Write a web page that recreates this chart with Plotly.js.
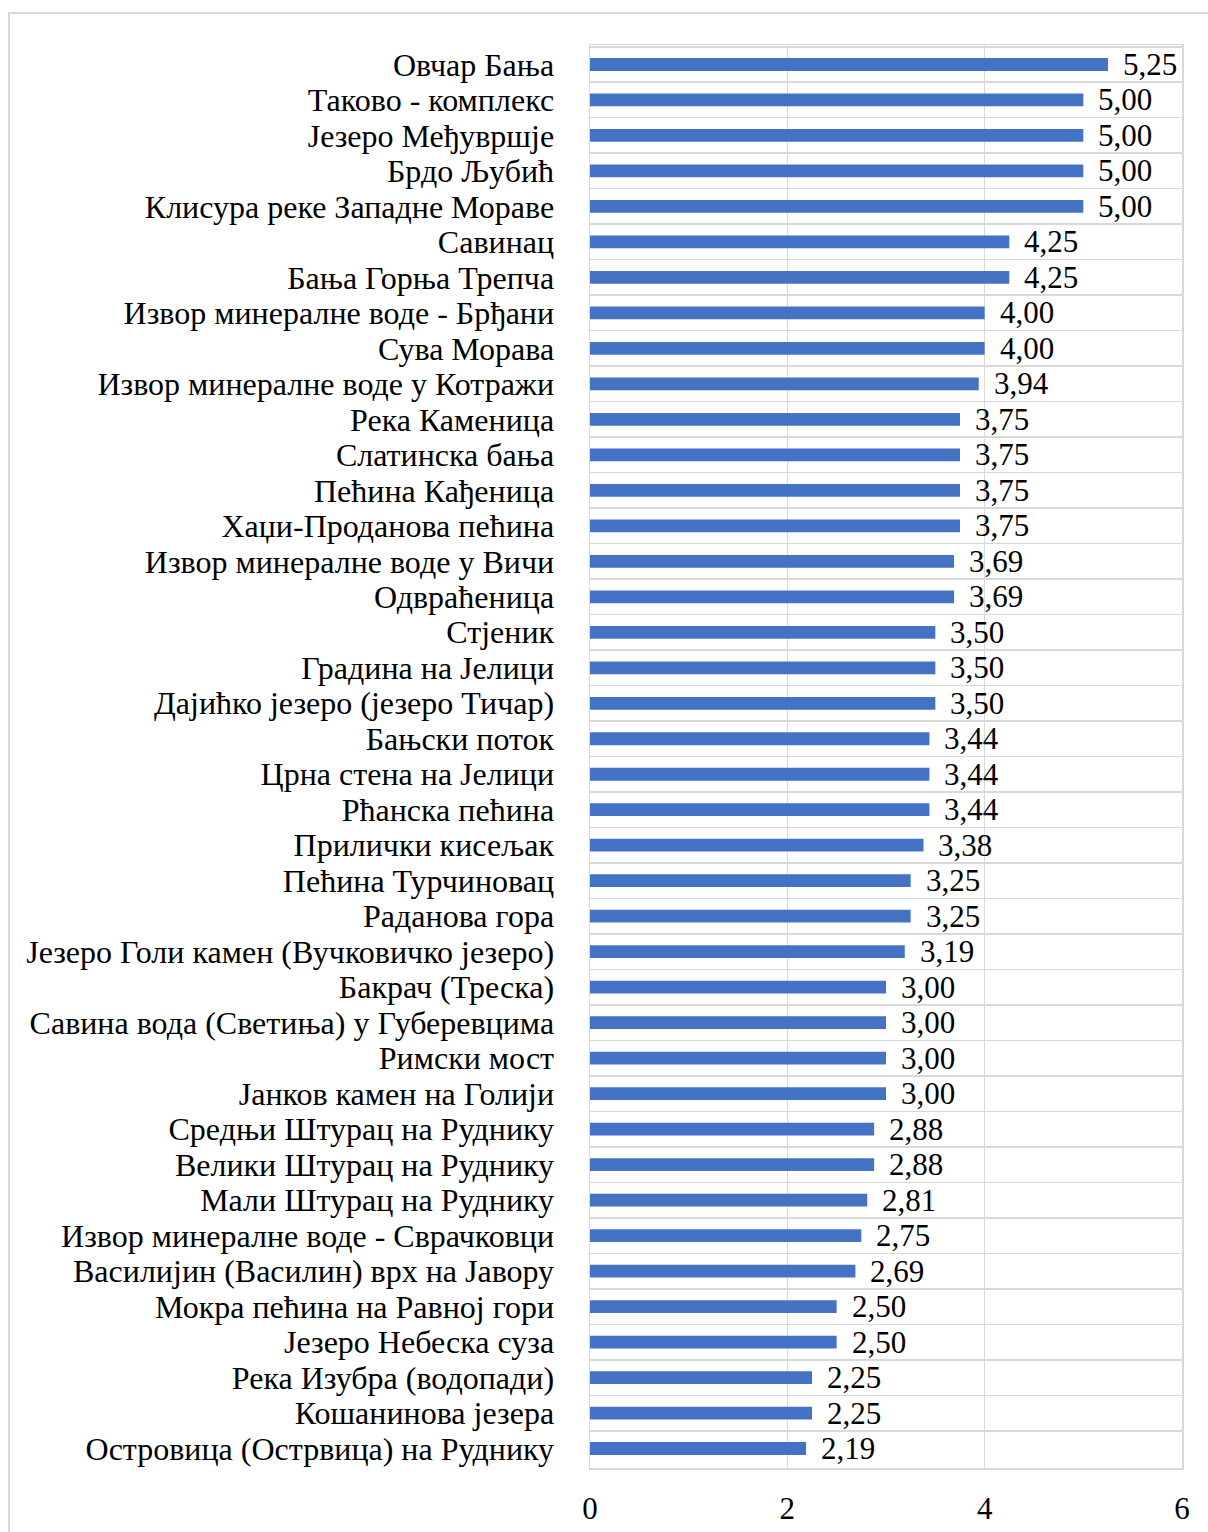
<!DOCTYPE html>
<html>
<head>
<meta charset="utf-8">
<script src="https://cdn.plot.ly/plotly-3.0.1.min.js"></script>
<style>
  html, body { margin: 0; padding: 0; background: #fff; }
  #wrap { position: relative; width: 1208px; height: 1532px; overflow: hidden; }
  #frame { position: absolute; left: 8px; top: 12px; width: 1300px; height: 1600px;
           border-left: 2px solid #d9d9d9; border-top: 2px solid #d9d9d9; box-sizing: border-box; }
  #chart { position: absolute; left: 0; top: 0; width: 1208px; height: 1532px; }
</style>
</head>
<body>
<div id="wrap">
  <div id="frame"></div>
  <div id="chart"></div>
</div>
<script>
const categories = [
  "Овчар Бања",
  "Таково - комплекс",
  "Језеро Међувршје",
  "Брдо Љубић",
  "Клисура реке Западне Мораве",
  "Савинац",
  "Бања Горња Трепча",
  "Извор минералне воде - Брђани",
  "Сува Морава",
  "Извор минералне воде у Котражи",
  "Река Каменица",
  "Слатинска бања",
  "Пећина Кађеница",
  "Хаџи-Проданова пећина",
  "Извор минералне воде у Вичи",
  "Одвраћеница",
  "Стјеник",
  "Градина на Јелици",
  "Дајићко језеро (језеро Тичар)",
  "Бањски поток",
  "Црна стена на Јелици",
  "Рћанска пећина",
  "Прилички кисељак",
  "Пећина Турчиновац",
  "Раданова гора",
  "Језеро Голи камен (Вучковичко језеро)",
  "Бакрач (Треска)",
  "Савина вода (Светиња) у Губеревцима",
  "Римски мост",
  "Јанков камен на Голији",
  "Средњи Штурац на Руднику",
  "Велики Штурац на Руднику",
  "Мали Штурац на Руднику",
  "Извор минералне воде - Сврачковци",
  "Василијин (Василин) врх на Јавору",
  "Мокра пећина на Равној гори",
  "Језеро Небеска суза",
  "Река Изубра (водопади)",
  "Кошанинова језера",
  "Островица (Острвица) на Руднику"
];
const values = [
  5.25, 5.00, 5.00, 5.00, 5.00, 4.25, 4.25, 4.00, 4.00, 3.94,
  3.75, 3.75, 3.75, 3.75, 3.69, 3.69, 3.50, 3.50, 3.50, 3.44,
  3.44, 3.44, 3.38, 3.25, 3.25, 3.19, 3.00, 3.00, 3.00, 3.00,
  2.88, 2.88, 2.81, 2.75, 2.69, 2.50, 2.50, 2.25, 2.25, 2.19
];
const xTicks = [0, 2, 4, 6];

const FONT = "'Liberation Serif', 'Times New Roman', serif";
const FS = 31;
const valueText = values.map(v => v.toFixed(2).replace('.', ','));

const trace = {
  type: 'bar',
  orientation: 'h',
  x: values,
  y: categories,
  marker: { color: '#4472C4' },
  width: 0.36,
  hoverinfo: 'skip'
};

const annotations = values.map((v, i) => ({
  x: v, y: categories[i], xref: 'x', yref: 'y',
  text: valueText[i], showarrow: false,
  xanchor: 'left', yanchor: 'middle', xshift: 13, yshift: 0,
  font: { family: FONT, size: FS, color: '#000' }
}));

const layout = {
  width: 1208, height: 1532,
  paper_bgcolor: 'rgba(0,0,0,0)',
  plot_bgcolor: '#fff',
  margin: { l: 590, r: 26, t: 45, b: 64 },
  showlegend: false,
  font: { family: FONT, size: FS, color: '#000' },
  xaxis: {
    range: [0, 6],
    tickvals: xTicks,
    ticktext: xTicks.map(String),
    showgrid: true, gridcolor: '#d9d9d9', gridwidth: 1.5,
    zeroline: false,
    showline: true, linecolor: '#d9d9d9', linewidth: 1.5, mirror: true,
    ticks: '', ticklabelstandoff: 12,
    tickfont: { family: FONT, size: FS, color: '#000' }
  },
  yaxis: {
    type: 'category',
    autorange: 'reversed',
    tickmode: 'linear', tick0: 0, dtick: 1,
    tickson: 'boundaries',
    showgrid: true, gridcolor: '#d9d9d9', gridwidth: 1.5,
    showline: true, linecolor: '#d9d9d9', linewidth: 1.5, mirror: true,
    ticks: '', ticklabelstandoff: 28,
    tickfont: { family: FONT, size: 32, color: '#000' }
  },
  annotations: annotations
};

Plotly.newPlot('chart', [trace], layout, { displayModeBar: false, staticPlot: true });
</script>
</body>
</html>
